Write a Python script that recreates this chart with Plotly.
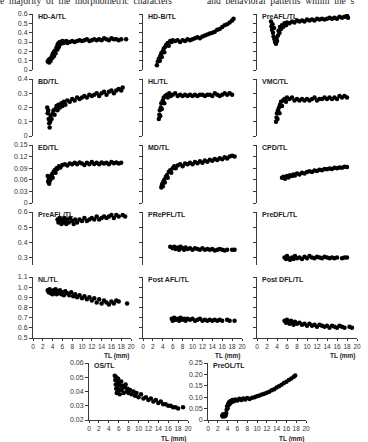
import plotly.graph_objects as go

W, H = 368, 442

# ---------------- data ----------------
hda_x = [3.0,3.2,3.3,3.5,3.6,3.8,4.0,4.0,4.2,4.3,4.5,4.6,4.8,5.0,5.0,5.2,5.3,5.5,5.7,6.0,6.2,6.5,6.8,7.0,7.5,8.0,8.5,9.0,9.5,10,10.5,11,11.5,12,12.5,13,13.5,14,14.5,15,15.5,16,16.5,17,17.5,18,19]
hda_y = [0.09,0.11,0.08,0.12,0.10,0.14,0.13,0.17,0.19,0.15,0.21,0.18,0.24,0.22,0.27,0.29,0.25,0.30,0.28,0.31,0.29,0.30,0.31,0.29,0.30,0.31,0.30,0.31,0.32,0.31,0.32,0.33,0.31,0.32,0.33,0.32,0.33,0.32,0.34,0.33,0.32,0.34,0.33,0.33,0.32,0.33,0.33]

hdb_x = [2.8,3.0,3.2,3.4,3.5,3.7,3.8,4.0,4.2,4.3,4.5,4.7,5.0,5.2,5.5,5.8,6.0,6.5,7.0,7.5,8.0,8.5,9.0,9.5,10,10.5,11,11.5,12,12.5,13,13.5,14,14.5,15,15.5,16,16.5,17,17.5,18,18.3]
hdb_y = [0.05,0.09,0.12,0.10,0.15,0.18,0.14,0.20,0.23,0.19,0.25,0.27,0.29,0.26,0.31,0.30,0.32,0.31,0.32,0.30,0.32,0.31,0.33,0.32,0.33,0.34,0.35,0.34,0.36,0.37,0.38,0.39,0.40,0.41,0.43,0.44,0.46,0.48,0.49,0.51,0.53,0.55]

preafl1_x = [2.8,2.9,3.0,3.1,3.2,3.3,3.4,3.5,3.6,3.8,3.9,4.0,4.2,4.3,4.5,4.6,4.8,5.0,5.2,5.5,5.8,6.0,6.5,7.0,7.5,8.0,8.5,9.0,9.5,10,10.5,11,11.5,12,12.5,13,13.5,14,14.5,15,15.5,16,16.5,17,17.5,18,18.2]
preafl1_y = [0.52,0.47,0.43,0.49,0.40,0.36,0.45,0.33,0.30,0.28,0.34,0.31,0.37,0.42,0.40,0.46,0.44,0.48,0.46,0.50,0.48,0.51,0.50,0.52,0.51,0.53,0.52,0.53,0.52,0.54,0.53,0.54,0.53,0.55,0.54,0.55,0.54,0.55,0.56,0.55,0.56,0.55,0.57,0.56,0.57,0.58,0.56]

bd_x = [2.9,3.0,3.1,3.2,3.3,3.4,3.5,3.6,3.8,4.0,4.2,4.4,4.6,4.8,5.0,5.2,5.5,5.8,6.0,6.3,6.6,7.0,7.5,8.0,8.5,9.0,9.5,10,10.5,11,11.5,12,12.5,13,13.5,14,14.5,15,15.5,16,16.5,17,17.5,18,18.3]
bd_y = [0.20,0.16,0.18,0.12,0.09,0.06,0.10,0.14,0.12,0.16,0.18,0.15,0.19,0.21,0.18,0.22,0.20,0.23,0.21,0.24,0.22,0.25,0.24,0.26,0.25,0.27,0.26,0.27,0.28,0.27,0.29,0.28,0.29,0.30,0.28,0.30,0.31,0.29,0.31,0.32,0.30,0.32,0.33,0.32,0.34]

hl_x = [3.2,3.3,3.4,3.5,3.6,3.7,3.8,4.0,4.2,4.3,4.5,4.8,5.0,5.3,5.6,6.0,6.5,7.0,7.5,8.0,8.5,9.0,9.5,10,10.5,11,11.5,12,12.5,13,13.5,14,14.5,15,15.5,16,16.5,17,17.5,18]
hl_y = [0.12,0.15,0.18,0.14,0.20,0.23,0.19,0.25,0.27,0.23,0.28,0.29,0.27,0.30,0.28,0.29,0.30,0.28,0.29,0.28,0.29,0.28,0.29,0.28,0.29,0.28,0.29,0.29,0.28,0.29,0.29,0.28,0.30,0.29,0.28,0.29,0.30,0.29,0.30,0.29]

vmc_x = [3.8,3.9,4.0,4.1,4.2,4.4,4.5,4.6,4.8,5.0,5.2,5.5,5.8,6.0,6.5,7.0,7.5,8.0,8.5,9.0,9.5,10,10.5,11,11.5,12,12.5,13,13.5,14,14.5,15,15.5,16,16.5,17,17.5,18]
vmc_y = [0.10,0.13,0.16,0.12,0.18,0.20,0.16,0.22,0.24,0.21,0.25,0.26,0.24,0.27,0.26,0.27,0.25,0.26,0.25,0.26,0.25,0.26,0.25,0.26,0.27,0.25,0.26,0.26,0.27,0.26,0.27,0.26,0.27,0.26,0.28,0.27,0.28,0.27]

ed_x = [3.0,3.1,3.2,3.3,3.4,3.5,3.7,3.9,4.0,4.2,4.4,4.6,4.8,5.0,5.3,5.6,6.0,6.5,7.0,7.5,8.0,8.5,9.0,9.5,10,10.5,11,11.5,12,12.5,13,13.5,14,14.5,15,15.5,16,16.5,17,17.5,18]
ed_y = [0.070,0.055,0.060,0.050,0.065,0.058,0.070,0.075,0.065,0.080,0.085,0.078,0.090,0.088,0.095,0.092,0.098,0.100,0.097,0.102,0.100,0.104,0.100,0.105,0.102,0.098,0.104,0.100,0.106,0.101,0.104,0.100,0.105,0.102,0.104,0.100,0.106,0.103,0.105,0.102,0.104]

md_x = [3.7,3.8,3.9,4.0,4.1,4.3,4.4,4.6,4.8,5.0,5.2,5.5,5.7,6.0,6.3,6.6,7.0,7.5,8.0,8.5,9.0,9.5,10,10.5,11,11.5,12,12.5,13,13.5,14,14.5,15,15.5,16,16.5,17,17.5,18,18.5]
md_y = [0.040,0.045,0.050,0.043,0.055,0.060,0.053,0.067,0.072,0.065,0.080,0.085,0.078,0.090,0.095,0.090,0.097,0.100,0.095,0.102,0.100,0.104,0.100,0.106,0.103,0.108,0.104,0.110,0.107,0.112,0.109,0.114,0.111,0.116,0.113,0.118,0.115,0.120,0.122,0.120]

cpd_x = [5.0,5.3,5.6,6.0,6.3,6.6,7.0,7.3,7.6,8.0,8.5,9.0,9.5,10,10.5,11,11.5,12,12.5,13,13.5,14,14.5,15,15.5,16,16.5,17,17.5,18]
cpd_y = [0.065,0.068,0.063,0.070,0.066,0.072,0.070,0.074,0.071,0.076,0.074,0.078,0.076,0.080,0.082,0.080,0.084,0.083,0.086,0.085,0.088,0.087,0.089,0.088,0.091,0.090,0.092,0.091,0.094,0.093]

preafl_x = [5.0,5.2,5.4,5.6,5.8,6.0,6.2,6.4,6.6,6.8,7.0,7.3,7.6,8.0,8.3,8.6,9.0,9.5,10,10.5,11,11.5,12,12.5,13,13.5,14,14.5,15,15.5,16,16.5,17,17.5,18.3,18.8]
preafl_y = [0.55,0.53,0.56,0.54,0.52,0.55,0.53,0.56,0.54,0.52,0.55,0.53,0.56,0.54,0.52,0.55,0.53,0.55,0.54,0.56,0.54,0.55,0.56,0.55,0.57,0.55,0.56,0.57,0.56,0.57,0.58,0.56,0.58,0.57,0.58,0.57]

prepfl_x = [5.5,6.0,6.3,6.6,7.0,7.3,7.6,8.0,8.3,8.6,9.0,9.5,10,10.5,11,11.5,12,12.5,13,13.5,14,14.5,15,15.5,16,16.5,17,18,18.5]
prepfl_y = [0.370,0.360,0.370,0.355,0.365,0.350,0.370,0.360,0.350,0.365,0.355,0.360,0.350,0.360,0.355,0.350,0.360,0.350,0.355,0.350,0.355,0.345,0.350,0.355,0.350,0.345,0.350,0.350,0.350]

predfl_x = [5.5,5.8,6.0,6.3,6.6,7.0,7.3,7.6,8.0,8.5,9.0,9.5,10,10.5,11,11.5,12,12.5,13,13.5,14,14.5,15,15.5,16,17,17.5,18]
predfl_y = [0.300,0.290,0.310,0.295,0.285,0.300,0.290,0.310,0.295,0.300,0.290,0.305,0.295,0.310,0.300,0.295,0.305,0.300,0.295,0.305,0.300,0.295,0.300,0.295,0.300,0.295,0.300,0.300]

nl_x = [3.0,3.2,3.4,3.6,3.8,4.0,4.2,4.4,4.6,4.8,5.0,5.2,5.5,5.8,6.0,6.3,6.6,7.0,7.4,7.8,8.2,8.6,9.0,9.5,10,10.5,11,11.5,12,12.5,13,13.5,14,14.5,15,15.5,16,16.5,17,17.5,19.2]
nl_y = [0.97,0.95,0.98,0.94,0.96,0.93,0.97,0.95,0.98,0.93,0.96,0.94,0.97,0.93,0.95,0.92,0.96,0.94,0.92,0.95,0.91,0.93,0.90,0.92,0.89,0.91,0.88,0.90,0.87,0.89,0.85,0.88,0.84,0.87,0.85,0.83,0.86,0.84,0.87,0.86,0.84]

postafl_x = [5.8,6.0,6.3,6.6,7.0,7.3,7.6,8.0,8.3,8.6,9.0,9.5,10,10.5,11,11.5,12,12.5,13,13.5,14,14.5,15,15.5,16,17,17.5,18.5]
postafl_y = [0.69,0.67,0.70,0.68,0.69,0.67,0.70,0.68,0.69,0.67,0.69,0.68,0.69,0.67,0.68,0.69,0.67,0.68,0.67,0.68,0.67,0.68,0.67,0.68,0.67,0.68,0.67,0.67]

postdfl_x = [5.5,5.8,6.0,6.2,6.5,6.8,7.0,7.3,7.6,8.0,8.5,9.0,9.5,10,10.5,11,11.5,12,12.5,13,13.5,14,14.5,15,15.5,16,16.5,17,17.5,18.5,19]
postdfl_y = [0.67,0.65,0.68,0.66,0.64,0.67,0.65,0.63,0.66,0.64,0.65,0.63,0.64,0.62,0.64,0.62,0.63,0.61,0.63,0.62,0.61,0.62,0.60,0.62,0.61,0.60,0.62,0.61,0.60,0.61,0.60]

os_x = [5.2,5.3,5.4,5.5,5.5,5.6,5.7,5.8,5.9,6.0,6.1,6.2,6.3,6.5,6.6,6.8,7.0,7.2,7.4,7.6,7.8,8.0,8.3,8.6,9.0,9.3,9.6,10,10.5,11,11.5,12,12.5,13,13.5,14,14.5,15,15.5,16,16.5,17,17.5,18,19]
os_y = [0.051,0.048,0.045,0.050,0.042,0.039,0.047,0.044,0.049,0.041,0.046,0.038,0.044,0.047,0.041,0.044,0.039,0.043,0.045,0.040,0.042,0.039,0.041,0.038,0.040,0.037,0.039,0.036,0.038,0.035,0.036,0.034,0.035,0.033,0.034,0.032,0.033,0.031,0.031,0.030,0.030,0.029,0.029,0.028,0.029]

preol_x = [2.9,3.0,3.1,3.2,3.3,3.4,3.5,3.6,3.7,3.8,3.9,4.0,4.1,4.2,4.3,4.5,4.6,4.8,5.0,5.3,5.6,6.0,6.4,6.8,7.2,7.6,8.0,8.5,9.0,9.5,10,10.5,11,11.5,12,12.5,13,13.5,14,14.5,15,15.5,16,16.5,17,17.5,17.8]
preol_y = [0.020,0.015,0.025,0.018,0.022,0.016,0.024,0.020,0.030,0.045,0.060,0.052,0.070,0.065,0.078,0.072,0.083,0.078,0.088,0.082,0.090,0.086,0.093,0.088,0.094,0.090,0.096,0.092,0.098,0.100,0.104,0.108,0.112,0.115,0.120,0.124,0.130,0.135,0.142,0.148,0.155,0.162,0.168,0.175,0.182,0.190,0.195]

titles = ["HD-A/TL","HD-B/TL","PreAFL/TL","BD/TL","HL/TL","VMC/TL","ED/TL","MD/TL","CPD/TL",
          "PreAFL/TL","PRePFL/TL","PreDFL/TL","NL/TL","Post AFL/TL","Post DFL/TL","OS/TL","PreOL/TL"]
series = [(hda_x,hda_y),(hdb_x,hdb_y),(preafl1_x,preafl1_y),(bd_x,bd_y),(hl_x,hl_y),(vmc_x,vmc_y),
          (ed_x,ed_y),(md_x,md_y),(cpd_x,cpd_y),(preafl_x,preafl_y),(prepfl_x,prepfl_y),(predfl_x,predfl_y),
          (nl_x,nl_y),(postafl_x,postafl_y),(postdfl_x,postdfl_y),(os_x,os_y),(preol_x,preol_y)]
x_ticks = [0,2,4,6,8,10,12,14,16,18,20]

# ---------------- layout geometry (pixels) ----------------
cols = [(33,131),(143,242),(257,357)]
rows = [(14,70),(79,136),(145,203),(212,265),(277,338)]
row_axes = [  # range, tickvals, ticktext
    ([0,0.6],[0,0.1,0.2,0.3,0.4,0.5,0.6],["0","0.1","0.2","0.3","0.4","0.5","0.6"]),
    ([0,0.4],[0,0.1,0.2,0.3,0.4],["0","0.1","0.2","0.3","0.4"]),
    ([0,0.15],[0,0.03,0.06,0.09,0.12,0.15],["0","0.03","0.06","0.09","0.12","0.15"]),
    ([0.25,0.6],[0.3,0.4,0.5,0.6],["0.3","0.4","0.5","0.6"]),
    ([0.5,1.1],[0.5,0.6,0.7,0.8,0.9,1.0,1.1],["0.5","0.6","0.7","0.8","0.9","1.0","1.1"]),
]
bottom = [((89,188),(363,420),[0.02,0.06],[0.02,0.03,0.04,0.05,0.06],["0.02","0.03","0.04","0.05","0.06"]),
          ((208,306),(363,420),[0,0.25],[0,0.05,0.10,0.15,0.20,0.25],["0","0.05","0.10","0.15","0.20","0.25"])]

panels = []
for r in range(5):
    for c in range(3):
        rng, tv, tt = row_axes[r]
        panels.append(dict(xd=cols[c], yd=rows[r], yr=rng, tv=tv, tt=tt, lab=(c == 0), xaxis=(r == 4)))
for xd, yd, rng, tv, tt in bottom:
    panels.append(dict(xd=xd, yd=yd, yr=rng, tv=tv, tt=tt, lab=True, xaxis=True))

fig = go.Figure()
FONT = "Liberation Sans, Arial, sans-serif"
AX = "#3a3a3a"
layout = {}
annots = []
for i, (p, (xs, ys), t) in enumerate(zip(panels, series, titles)):
    k = "" if i == 0 else str(i + 1)
    fig.add_trace(go.Scatter(x=xs, y=ys, mode="markers", xaxis="x" + k, yaxis="y" + k,
                             marker=dict(color="black", size=4.5, line=dict(width=0)),
                             showlegend=False, hoverinfo="skip"))
    x0, x1 = p["xd"]
    y0, y1 = p["yd"]
    layout["xaxis" + k] = dict(domain=[x0 / W, x1 / W], range=[0, 20], anchor="y" + k,
                               visible=p["xaxis"], showgrid=False, zeroline=False,
                               showline=True, linecolor=AX, linewidth=1, ticks="outside",
                               ticklen=2, tickcolor=AX, tickvals=x_ticks, tickangle=0,
                               ticktext=[str(v) for v in x_ticks],
                               tickfont=dict(family=FONT, size=6.5, color="#333"), automargin=False)
    layout["yaxis" + k] = dict(domain=[1 - y1 / H, 1 - y0 / H], range=p["yr"], anchor="x" + k,
                               showgrid=False, zeroline=False, showline=True, linecolor=AX,
                               linewidth=1, ticks="outside", ticklen=3, tickcolor=AX,
                               tickvals=p["tv"], ticktext=p["tt"], showticklabels=p["lab"],
                               tickfont=dict(family=FONT, size=7, color="#333"), automargin=False)
    annots.append(dict(text="<b>" + t + "</b>", xref="paper", yref="paper", x=(x0 + 3) / W,
                       y=1 - (y0 - 3) / H, xanchor="left", yanchor="top", showarrow=False,
                       font=dict(family=FONT, size=7, color="#222")))
    if p["xaxis"]:
        ty = 355.5 if y1 < 350 else 439
        annots.append(dict(text="<b>TL (mm)</b>", xref="paper", yref="paper", x=x1 / W,
                           y=1 - ty / H, xanchor="right", yanchor="middle", showarrow=False,
                           borderpad=0, font=dict(family=FONT, size=6.5, color="#222")))

annots.append(dict(text="e  majority  of  the  morphometric  characters", xref="paper", yref="paper",
                   x=-0.005, y=1 - 8 / H, xanchor="left", yanchor="bottom", showarrow=False,
                   font=dict(family="Liberation Serif, Times New Roman, serif", size=9.5, color="#222")))
annots.append(dict(text="and  behavioral  patterns  within  the  s", xref="paper", yref="paper",
                   x=205 / W, y=1 - 8 / H, xanchor="left", yanchor="bottom", showarrow=False,
                   font=dict(family="Liberation Serif, Times New Roman, serif", size=9.5, color="#222")))

fig.update_layout(width=W, height=H, margin=dict(l=0, r=0, t=0, b=0),
                  paper_bgcolor="white", plot_bgcolor="white", annotations=annots, **layout)
fig.write_html("out.html")
